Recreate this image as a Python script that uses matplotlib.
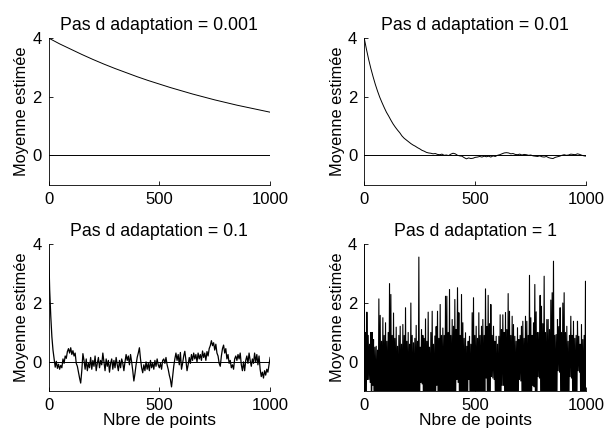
import numpy as np
import matplotlib
matplotlib.use('Agg')
import matplotlib.pyplot as plt

plt.rcParams['font.family'] = ['Liberation Sans', 'DejaVu Sans']

# --- titres / libelles ---
titles = ['Pas d adaptation = 0.001', 'Pas d adaptation = 0.01',
          'Pas d adaptation = 0.1', 'Pas d adaptation = 1']
ylabel = 'Moyenne estimée'
xlabel = 'Nbre de points'
xticks = [0, 500, 1000]
yticks = [0, 2, 4]

# --- pas = 0.001 : un point tous les 50 echantillons ---
n_001 = np.arange(0, 1001, 50)
m_001 = [4.00, 3.80, 3.62, 3.44, 3.27, 3.11, 2.96, 2.82, 2.68, 2.55, 2.43,
         2.31, 2.20, 2.09, 1.99, 1.89, 1.80, 1.71, 1.63, 1.55, 1.47]

# --- pas = 0.01 : un point tous les 10 echantillons ---
n_01 = np.arange(0, 1001, 10)
m_01 = [4.00, 3.62, 3.27, 2.96, 2.68, 2.42, 2.19, 1.98, 1.80, 1.63,
        1.47, 1.34, 1.20, 1.07, 0.96, 0.86, 0.77, 0.66, 0.58, 0.52,
        0.46, 0.40, 0.35, 0.31, 0.26, 0.22, 0.17, 0.14, 0.10, 0.08,
        0.07, 0.05, 0.06, 0.03, 0.02, 0.04, 0.00, 0.01, -0.01, 0.04,
        0.07, 0.05, 0.00, -0.02, -0.03, -0.08, -0.12, -0.09, -0.11, -0.10,
        -0.07, -0.06, -0.04, -0.06, -0.03, -0.05, -0.03, -0.06, -0.02, -0.04,
        0.00, 0.02, 0.05, 0.08, 0.09, 0.08, 0.05, 0.06, 0.03, 0.02,
        0.04, 0.01, 0.03, 0.02, 0.00, 0.01, -0.02, -0.03, -0.04, -0.02,
        -0.05, -0.06, -0.04, -0.08, -0.10, -0.11, -0.07, -0.05, -0.03, 0.00,
        0.02, 0.00, 0.01, 0.04, 0.03, 0.02, 0.05, 0.03, 0.00, -0.02,
        -0.03]

# --- pas = 0.1 : un point tous les 5 echantillons ---
n_1 = np.arange(0, 1001, 5)
m_1 = [4.00, 2.45, 1.55, 0.85, 0.40, 0.10, -0.18, 0.02, -0.22, -0.08,
       -0.25, -0.12, -0.20, 0.10, -0.05, 0.20, 0.12, 0.35, 0.45, 0.30,
       0.48, 0.25, 0.38, 0.20, 0.30, -0.05, -0.15, -0.35, -0.55, -0.72,
       -0.30, 0.28, 0.05, -0.25, 0.10, -0.30, -0.05, -0.20, 0.15, -0.25,
       0.05, -0.15, 0.20, -0.30, -0.05, 0.15, -0.20, 0.05, -0.10, 0.30,
       0.00, -0.30, 0.10, -0.15, 0.05, -0.35, -0.05, 0.10, -0.25, 0.05,
       -0.20, 0.15, -0.10, -0.30, 0.05, -0.20, 0.10, -0.05, -0.30, 0.00,
       0.25, 0.05, 0.20, -0.10, 0.25, 0.00, -0.30, -0.65, -0.40, -0.10,
       0.15, 0.30, 0.48, 0.10, -0.20, -0.37, -0.10, -0.30, 0.00, -0.25,
       -0.05, -0.30, 0.05, -0.20, -0.05, -0.25, 0.05, -0.15, 0.10, -0.10,
       -0.20, -0.05, -0.25, 0.05, 0.10, -0.05, 0.15, -0.10, -0.25, -0.45,
       -0.60, -0.85, -0.50, -0.15, 0.10, 0.30, 0.05, 0.25, -0.10, 0.32,
       -0.25, -0.05, 0.20, 0.36, 0.05, -0.30, -0.10, 0.15, -0.05, 0.25,
       0.05, 0.30, 0.10, 0.25, 0.00, 0.30, 0.10, 0.25, 0.05, 0.37,
       0.15, 0.30, 0.05, 0.35, 0.20, 0.45, 0.55, 0.72, 0.55, 0.65,
       0.40, 0.60, 0.30, 0.20, -0.05, -0.15, 0.20, 0.45, 0.57, 0.30,
       0.45, 0.10, 0.25, -0.05, 0.05, -0.20, -0.10, -0.25, 0.10, 0.20,
       0.05, 0.25, 0.10, 0.30, -0.10, -0.30, 0.00, -0.30, 0.05, 0.20,
       -0.05, 0.30, 0.05, -0.15, 0.10, -0.05, 0.30, 0.00, 0.25, -0.10,
       0.20, -0.25, -0.50, -0.35, -0.55, -0.30, -0.45, -0.25, -0.35, -0.10,
       0.15]

# --- pas = 1 : sommets (n = 0, 6, 12, ...) et creux (n = 3, 9, 15, ...) ---
hauts = [4.00, 1.00, 1.69, 0.90, 0.60, 1.00, 1.00, 0.76, 0.50, 0.53,
         0.40, 2.14, 1.58, 0.70, 1.50, 0.90, 1.33, 0.70, 1.00, 2.66,
         2.29, 0.90, 1.66, 0.80, 1.18, 0.53, 0.90, 1.21, 0.60, 1.27,
         0.90, 1.84, 0.70, 1.00, 0.60, 2.00, 0.90, 0.65, 0.80, 1.24,
         0.70, 3.56, 0.50, 1.10, 0.90, 0.80, 1.46, 0.70, 1.69, 0.50,
         1.00, 1.72, 0.60, 0.88, 1.20, 1.72, 0.80, 1.95, 0.90, 1.15,
         0.90, 2.23, 2.23, 1.00, 2.46, 0.90, 1.44, 1.21, 2.12, 1.10,
         2.52, 1.67, 0.90, 2.29, 1.33, 0.80, 0.99, 0.53, 0.70, 0.87,
         0.60, 1.67, 2.18, 0.90, 1.21, 0.80, 1.67, 0.90, 1.21, 1.44,
         0.90, 2.48, 1.20, 2.26, 1.30, 1.95, 0.90, 1.21, 0.70, 0.87,
         0.60, 0.87, 1.60, 1.10, 1.60, 1.00, 1.68, 1.10, 2.32, 1.72,
         0.90, 1.55, 1.27, 0.87, 0.70, 1.16, 0.76, 0.90, 1.21, 1.38,
         0.80, 1.55, 1.38, 0.90, 2.94, 1.50, 0.90, 1.33, 2.63, 1.70,
         1.00, 1.00, 2.26, 1.89, 1.30, 2.91, 1.00, 1.44, 1.44, 1.10,
         2.10, 2.35, 3.42, 0.90, 0.93, 1.44, 1.20, 1.84, 1.00, 2.00,
         2.35, 1.00, 1.21, 0.70, 0.90, 1.55, 0.90, 1.38, 0.80, 0.90,
         1.38, 0.87, 0.60, 1.27, 0.76, 0.90, 2.74]
creux = [-2.0, -2.0, -0.60, -0.60, -0.70, -2.0, -0.80, -2.0, -2.0, -2.0,
         -2.0, -2.0, -2.0, -2.0, -2.0, -2.0, -2.0, -2.0, -2.0, -2.0,
         -2.0, -2.0, -2.0, -2.0, -2.0, -2.0, -2.0, -2.0, -2.0, -2.0,
         -2.0, -2.0, -2.0, -2.0, -2.0, -2.0, -2.0, -2.0, -2.0, -2.0,
         -2.0, -2.0, -0.70, -0.75, -2.0, -2.0, -2.0, -2.0, -2.0, -2.0,
         -2.0, -2.0, -2.0, -2.0, -0.80, -2.0, -2.0, -2.0, -2.0, -2.0,
         -2.0, -2.0, -2.0, -2.0, -2.0, -2.0, -2.0, -2.0, -2.0, -0.60,
         -0.70, -2.0, -2.0, -2.0, -2.0, -2.0, -2.0, -2.0, -0.60, -2.0,
         -2.0, -2.0, -2.0, -2.0, -2.0, -2.0, -2.0, -2.0, -2.0, -2.0,
         -2.0, -0.55, -2.0, -2.0, -2.0, -0.50, -0.55, -0.60, -2.0, -2.0,
         -2.0, -2.0, -2.0, -0.80, -0.80, -2.0, -2.0, -2.0, -2.0, -2.0,
         -2.0, -2.0, -2.0, -2.0, -2.0, -2.0, -0.60, -0.65, -2.0, -2.0,
         -2.0, -2.0, -2.0, -2.0, -2.0, -2.0, -0.80, -0.85, -2.0, -2.0,
         -0.50, -0.55, -2.0, -2.0, -2.0, -2.0, -2.0, -2.0, -2.0, -2.0,
         -2.0, -2.0, -2.0, -2.0, -2.0, -0.30, -0.35, -2.0, -2.0, -2.0,
         -2.0, -2.0, -2.0, -2.0, -0.50, -0.55, -2.0, -2.0, -2.0, -2.0,
         -0.30, -0.35, -2.0, -2.0, -2.0, -2.0, -2.0]


def style_axes(ax, title, with_xlabel):
    ax.set_xlim(0, 1000)
    ax.set_ylim(-1, 4)
    ax.set_xticks(xticks)
    ax.set_yticks(yticks)
    ax.spines['top'].set_visible(False)
    ax.spines['right'].set_visible(False)
    for s in ('left', 'bottom'):
        ax.spines[s].set_linewidth(0.6)
    ax.tick_params(direction='in', length=3, width=0.6, labelsize=12, pad=5)
    ax.set_title(title, fontsize=12.8, pad=6)
    ax.set_ylabel(ylabel, fontsize=11.8, labelpad=2)
    if with_xlabel:
        ax.set_xlabel(xlabel, fontsize=12.5, labelpad=0)
    # ligne de reference a zero
    ax.plot([0, 1000], [0, 0], color='black', lw=0.7)


fig = plt.figure(figsize=(6.07, 4.38), dpi=100)
positions = [[0.080, 0.5785, 0.365, 0.3347],
             [0.600, 0.5785, 0.366, 0.3347],
             [0.080, 0.1066, 0.365, 0.3360],
             [0.600, 0.1066, 0.366, 0.3360]]
axes = [fig.add_axes(p) for p in positions]

axes[0].plot(n_001, m_001, color='black', lw=0.7)
axes[1].plot(n_01, m_01, color='black', lw=0.7)
axes[2].plot(n_1, m_1, color='black', lw=0.9)

# pas = 1 : on alterne sommets et creux
n_10 = np.arange(0, 1000, 3)
m_10 = np.empty(len(n_10))
m_10[0::2] = hauts
m_10[1::2] = creux
axes[3].plot(n_10, m_10, color='black', lw=0.8)

for i, ax in enumerate(axes):
    style_axes(ax, titles[i], i >= 2)

fig.savefig('out.png', dpi=100)
